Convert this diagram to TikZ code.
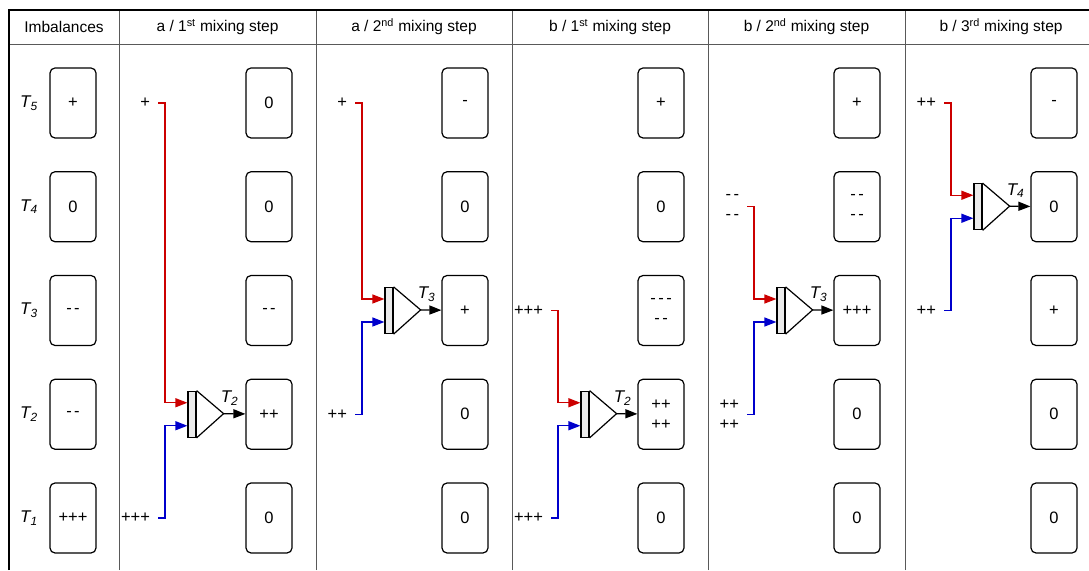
\documentclass[tikz,border=0pt]{standalone}
\usepackage{fontspec}
\setmainfont{Liberation Sans}
\usepackage{xcolor}
\usetikzlibrary{arrows.meta,positioning,calc}
\definecolor{inred}{RGB}{204,0,0}
\definecolor{inblue}{RGB}{0,0,204}
\newcommand{\dneg}{-\kern2.5pt-}
\newcommand{\tneg}{-\kern2.5pt-\kern2.5pt-}
\tikzset{
  cell/.style  ={draw,line width=1.2pt,rounded corners=5pt,minimum width=46pt,minimum height=70pt,inner sep=0pt,align=center,font=\fontsize{16.5}{20}\selectfont},
  head/.style  ={font=\fontsize{15.5}{18}\selectfont},
  tlab/.style  ={font=\fontsize{17}{18}\selectfont\itshape,inner sep=1pt},
  imb/.style   ={font=\fontsize{16.5}{20}\selectfont,align=center,inner sep=1pt,outer xsep=7pt,anchor=east},
  bar/.style   ={draw,line width=1.2pt,fill=black!8,minimum width=8pt,minimum height=46pt,inner sep=0pt},
  mix/.style   ={line width=1.2pt,line join=miter},
  grid/.style  ={black!65,line width=1pt},
  frame/.style ={black,line width=2pt},
  redin/.style ={inred,line width=1.3pt,-{Triangle[length=12pt,width=9pt]}},
  bluein/.style={inblue,line width=1.3pt,-{Triangle[length=12pt,width=9pt]}},
  outarr/.style={black,line width=1.3pt,-{Triangle[length=12pt,width=9pt]}},
}

\begin{document}
\begin{tikzpicture}[x=1pt,y=1pt]
  \useasboundingbox (0,0) rectangle (1089,570);
  \clip (0,0) rectangle (1089,570);
  % table lines
  \foreach \x in {119,316,512,708,905,1101}
     \draw[grid] (\x,0) -- (\x,560);
  \draw[grid] (9,525) -- (1101,525);
  \draw[frame] (9,0) -- (9,560) -- (1101,560);
  % header
  \node[head] (h1) at (64,543)    {Imbalances};
  \node[head] (h2) at (217.5,543) {a / 1\textsuperscript{st} mixing step};
  \node[head] (h3) at (414,543)   {a / 2\textsuperscript{nd} mixing step};
  \node[head] (h4) at (610,543)   {b / 1\textsuperscript{st} mixing step};
  \node[head] (h5) at (806.5,543) {b / 2\textsuperscript{nd} mixing step};
  \node[head] (h6) at (1001,543)  {b / 3\textsuperscript{rd} mixing step};
  % row labels
  \foreach \r/\y in {5/467,4/363.25,3/259.5,2/155.75,1/52}
     \node[tlab] (t\r) at (29,\y) {T\textsubscript{\r}};
  % imbalance boxes
  \foreach \c/\x/\tv/\tiv/\tiii/\tii/\ti in {
      1/73/+/0/\dneg/\dneg/+++,
      2/269/0/0/\dneg/++/0,
      3/465/-/0/+/0/0,
      4/661/+/0/{\tneg\\\dneg}/{++\\++}/0,
      5/857/+/{\dneg\\\dneg}/+++/0/0,
      6/1054/-/0/+/0/0}{
     \node[cell] (b\c-5) at (\x,467)    {\tv};
     \node[cell] (b\c-4) at (\x,363.25) {\tiv};
     \node[cell] (b\c-3) at (\x,259.5)  {\tiii};
     \node[cell] (b\c-2) at (\x,155.75) {\tii};
     \node[cell] (b\c-1) at (\x,52)     {\ti};
  }
  % mixers
  \foreach \c/\xl/\yo/\yr/\lr/\yb/\lb/\n in {
      2/119/155.75/467/+/52/+++/2,
      3/316/259.5/467/+/155.75/++/3,
      4/512/155.75/259.5/+++/52/+++/2,
      5/708/259.5/363.25/{\dneg\\\dneg}/155.75/{++\\++}/3,
      6/905/363.25/467/++/259.5/++/4}{
     \node[bar] (m\c) at (\xl+73,\yo) {};
     \draw[mix] (m\c.north east) -- ++(27,-23) coordinate (o\c) -- (m\c.south east);
     \draw[outarr] (o\c) -- (b\c-\n);
     \node[tlab,anchor=south] (l\c) at ($(o\c)+(6,7)$) {T\textsubscript{\n}};
     \node[imb] (r\c) at (\xl+39,\yr) {\lr};
     \node[imb] (u\c) at (\xl+39,\yb) {\lb};
     \draw[redin] (r\c.east) -- ++(7,0) |- ($(m\c.west)+(0,11.5)$);
     \draw[bluein] (u\c.east) -- ++(7,0) |- ($(m\c.west)+(0,-11.5)$);
  }
\end{tikzpicture}
\end{document}
